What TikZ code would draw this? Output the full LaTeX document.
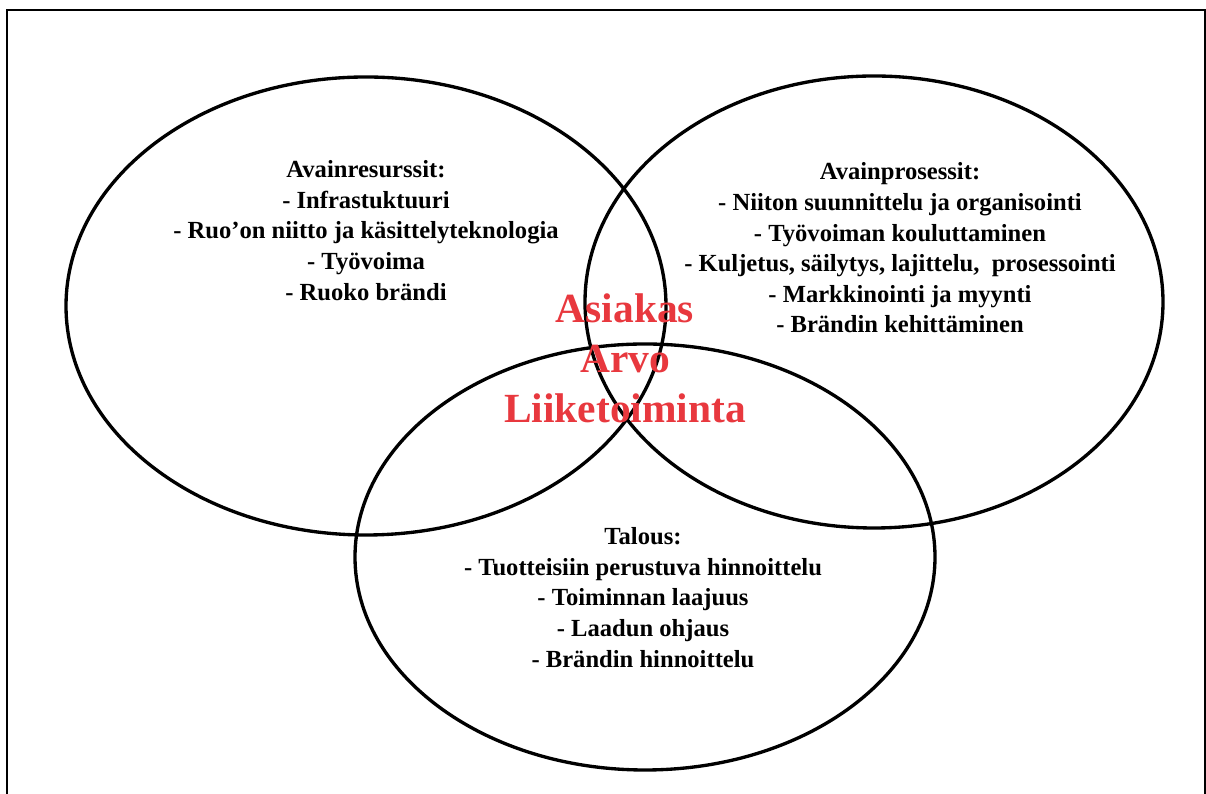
\documentclass[tikz,border=0pt]{standalone}
\usepackage{fontspec}
\setmainfont{Liberation Serif}
\usepackage{tikz}
\usetikzlibrary{positioning}

\definecolor{corered}{RGB}{232,56,62}

\tikzset{
  venn/.style={line width=1.9pt},
  frameline/.style={line width=1.1pt},
  blocktext/.style={align=center, font=\fontsize{14}{17.4}\selectfont\bfseries},
  coretext/.style={align=center, text=corered, font=\fontsize{23.6}{28.5}\selectfont\bfseries}
}

\begin{document}
\begin{tikzpicture}
    \useasboundingbox (0,0) rectangle (24.12,15.88);
    % ---- Frame ----
    \draw[frameline] (0.14,0) -- (0.14,15.68) -- (24.10,15.68) -- (24.10,0);
    % ---- Circles ----
    \draw[venn] (7.32,9.76) ellipse [x radius=6.0cm, y radius=4.58cm];
    \draw[venn] (17.48,9.84) ellipse [x radius=5.78cm, y radius=4.52cm];
    \draw[venn] (12.9,4.74) ellipse [x radius=5.8cm, y radius=4.26cm];
    % ---- Texts ----
    \node[blocktext] (resurssit) at (7.32,11.27) {Avainresurssit:\\
      - Infrastuktuuri\\
      - Ruo’on niitto ja käsittelyteknologia\\
      - Työvoima\\
      - Ruoko brändi};
    \node[blocktext] (prosessit) at (18.0,10.92) {Avainprosessit:\\
      - Niiton suunnittelu ja organisointi\\
      - Työvoiman kouluttaminen\\
      - Kuljetus, säilytys, lajittelu, \ prosessointi\\
      - Markkinointi ja myynti\\
      - Brändin kehittäminen};
    \node[blocktext] (talous) at (12.86,3.93) {Talous:\\
      - Tuotteisiin perustuva hinnoittelu\\
      - Toiminnan laajuus\\
      - Laadun ohjaus\\
      - Brändin hinnoittelu};
    \node[coretext] (ydin) at (12.5,8.72) {Asiakas\\ Arvo\\ Liiketoiminta};
\end{tikzpicture}
\end{document}
